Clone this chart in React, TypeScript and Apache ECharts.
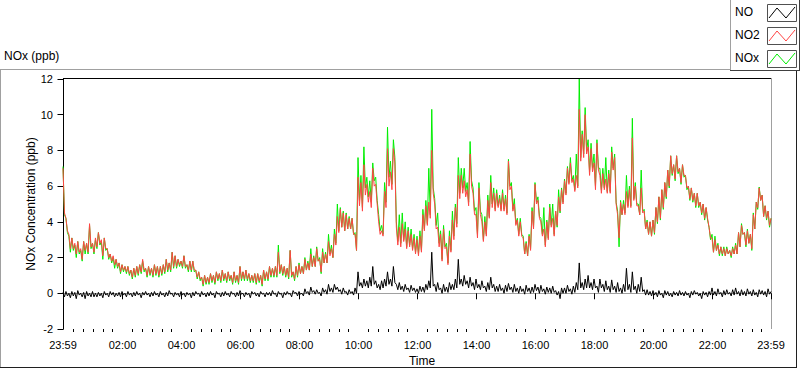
import React, { useEffect, useRef } from 'react';
import * as echarts from 'echarts';

// Each 6-minute slot holds the top and the bottom of the noisy trace.
// Slot i starts at minute -1 + 6i (minute -1 = 23:59 of the previous day).
const START_MIN = -1;
const STEP_MIN = 6;

// NO2 (ppb), red
const no2Hi = [
  7.0, 4.2, 3.3, 3.1, 2.8, 2.9, 2.5, 2.9, 2.8, 3.9,
  2.8, 3.1, 3.4, 3.0, 3.1, 2.5, 2.2, 2.1, 1.9, 1.7,
  1.6, 1.5, 1.5, 1.3, 1.4, 1.5, 1.6, 1.9, 1.4, 1.5,
  1.4, 1.6, 1.5, 1.5, 1.6, 1.9, 1.7, 2.3, 2.1, 1.9,
  1.8, 2.1, 1.6, 1.8, 1.8, 1.3, 1.2, 0.9, 1.0, 0.9,
  1.1, 1.0, 1.2, 1.1, 1.3, 1.1, 1.2, 1.0, 1.2, 1.0,
  1.5, 1.2, 1.3, 1.1, 1.0, 1.1, 1.1, 1.0, 1.3, 1.2,
  1.5, 1.4, 1.5, 2.3, 1.6, 1.5, 1.4, 2.4, 1.2, 1.5,
  1.6, 1.5, 1.9, 1.7, 2.2, 2.0, 2.5, 1.9, 2.3, 2.2,
  2.9, 2.5, 3.3, 4.3, 4.7, 4.5, 4.4, 4.2, 4.2, 3.3,
  6.5, 6.2, 7.2, 6.1, 5.7, 7.0, 6.1, 4.0, 3.5, 5.7,
  8.1, 6.8, 8.1, 3.7, 3.7, 3.9, 3.6, 3.5, 3.3, 3.1,
  3.0, 3.2, 4.4, 4.9, 5.1, 8.0, 5.0, 3.7, 3.3, 3.6,
  2.6, 3.2, 4.1, 4.8, 6.6, 6.6, 6.3, 5.8, 7.8, 5.6,
  4.4, 5.9, 4.0, 4.0, 5.2, 6.2, 5.6, 5.6, 5.3, 5.6,
  5.3, 7.4, 6.0, 5.0, 4.1, 4.0, 3.1, 2.8, 3.2, 4.6,
  6.1, 5.2, 4.0, 3.6, 4.0, 4.8, 4.2, 4.6, 5.4, 5.8,
  6.3, 7.0, 7.3, 6.4, 6.6, 10.3, 8.9, 10.0, 8.2, 8.1,
  7.3, 8.4, 6.6, 6.7, 6.4, 6.7, 7.9, 7.6, 4.4, 5.1,
  5.0, 5.7, 5.8, 8.7, 6.0, 4.9, 5.9, 4.6, 4.0, 4.0,
  4.1, 4.8, 5.4, 5.8, 6.2, 6.9, 7.7, 7.2, 7.7, 7.0,
  7.2, 6.6, 6.0, 5.9, 5.6, 5.6, 5.1, 5.0, 4.8, 3.7,
  3.1, 3.0, 2.7, 2.6, 2.5, 2.5, 2.4, 2.5, 2.7, 3.4,
  3.8, 3.4, 3.5, 3.3, 4.4, 5.1, 5.9, 5.5, 4.9, 4.6, 4.2,
];
const no2Lo = [
  4.5, 3.5, 2.5, 2.5, 2.2, 2.3, 1.9, 2.4, 2.3, 2.6,
  2.3, 2.6, 2.8, 2.1, 2.5, 2.0, 1.8, 1.6, 1.5, 1.2,
  1.3, 1.2, 1.1, 0.9, 1.0, 1.1, 1.2, 1.3, 1.0, 1.1,
  1.0, 1.1, 1.0, 1.1, 1.2, 1.3, 1.3, 1.5, 1.5, 1.6,
  1.5, 1.5, 1.3, 1.3, 1.3, 0.9, 0.8, 0.5, 0.6, 0.6,
  0.7, 0.6, 0.8, 0.7, 0.8, 0.7, 0.8, 0.6, 0.7, 0.6,
  0.8, 0.8, 0.8, 0.7, 0.7, 0.6, 0.7, 0.5, 0.8, 0.8,
  1.0, 1.0, 1.0, 1.2, 1.1, 1.0, 0.9, 1.0, 0.8, 1.0,
  1.1, 1.1, 1.3, 1.3, 1.5, 1.5, 1.8, 1.2, 1.7, 1.7,
  2.1, 2.0, 2.7, 3.4, 3.7, 3.5, 3.6, 3.6, 3.3, 2.4,
  4.9, 4.6, 5.5, 5.1, 4.8, 6.0, 5.0, 3.3, 3.2, 4.8,
  6.0, 5.8, 7.3, 2.7, 2.6, 2.9, 2.5, 2.6, 2.4, 2.2,
  2.1, 2.3, 3.5, 3.8, 4.2, 5.6, 3.6, 2.6, 1.8, 2.5,
  1.6, 2.3, 3.0, 3.7, 5.3, 5.6, 5.4, 4.9, 6.0, 4.4,
  3.1, 4.4, 2.9, 3.2, 4.2, 4.8, 4.6, 4.8, 4.6, 4.6,
  4.4, 5.8, 4.6, 3.8, 3.2, 3.2, 2.2, 2.1, 2.4, 3.6,
  5.0, 4.2, 3.2, 2.6, 3.0, 3.7, 3.2, 3.8, 4.6, 5.0,
  5.5, 6.1, 6.2, 5.7, 5.9, 7.4, 7.6, 7.8, 6.6, 6.8,
  5.8, 6.9, 5.6, 5.8, 5.6, 5.6, 6.9, 5.0, 3.1, 4.4,
  4.4, 4.8, 4.8, 5.2, 4.9, 4.4, 4.5, 3.6, 3.3, 3.2,
  3.4, 4.0, 4.2, 4.8, 5.4, 6.0, 6.7, 6.4, 6.8, 6.2,
  6.6, 5.9, 5.3, 5.2, 4.9, 4.9, 4.5, 4.2, 4.2, 3.1,
  2.3, 2.4, 2.2, 2.2, 2.1, 2.2, 2.1, 2.2, 2.2, 2.6,
  3.3, 2.7, 2.8, 2.5, 3.6, 4.8, 5.2, 4.3, 4.2, 3.8, 3.9,
];

// NOx (ppb), green
const noxHi = [
  7.1, 4.2, 3.2, 3.1, 2.7, 2.9, 2.4, 2.9, 2.8, 3.8,
  2.8, 3.0, 3.4, 2.9, 3.1, 2.5, 2.2, 2.0, 1.9, 1.7,
  1.6, 1.5, 1.5, 1.3, 1.4, 1.5, 1.6, 1.8, 1.4, 1.5,
  1.4, 1.6, 1.5, 1.5, 1.6, 1.9, 1.7, 2.3, 2.1, 1.9,
  1.8, 2.1, 1.6, 1.8, 1.8, 1.3, 1.2, 0.9, 1.0, 0.9,
  1.1, 1.0, 1.2, 1.1, 1.3, 1.1, 1.2, 1.0, 1.2, 1.0,
  1.5, 1.2, 1.3, 1.1, 1.0, 1.1, 1.1, 1.0, 1.3, 1.2,
  1.5, 1.4, 1.5, 2.7, 1.6, 1.5, 1.4, 2.4, 1.2, 1.5,
  1.7, 1.5, 2.0, 1.8, 2.5, 2.1, 2.6, 2.0, 2.5, 2.3,
  3.3, 2.7, 3.6, 5.0, 4.8, 4.6, 4.5, 4.3, 4.2, 3.4,
  7.6, 6.6, 8.2, 6.5, 6.3, 7.3, 6.5, 4.4, 3.8, 6.2,
  9.3, 7.4, 8.6, 4.0, 4.4, 4.5, 4.0, 3.7, 3.6, 3.3,
  3.2, 3.5, 4.7, 5.2, 7.0, 10.3, 5.3, 4.5, 3.5, 3.8,
  2.8, 3.5, 4.6, 5.0, 7.6, 7.0, 7.0, 6.2, 8.5, 5.9,
  4.8, 6.2, 4.4, 4.3, 5.5, 6.6, 5.9, 5.8, 5.5, 5.8,
  5.5, 7.5, 6.2, 5.3, 4.2, 4.2, 3.2, 2.9, 3.3, 4.8,
  6.2, 5.4, 4.2, 4.8, 4.1, 5.0, 5.0, 4.6, 5.8, 5.9,
  6.4, 7.1, 7.6, 6.6, 7.8, 12.0, 9.1, 10.4, 8.6, 8.4,
  7.8, 8.6, 7.0, 7.0, 7.6, 6.9, 8.2, 7.8, 4.6, 5.2,
  5.2, 6.6, 6.0, 9.8, 6.2, 5.0, 6.9, 4.7, 4.1, 4.0,
  4.1, 4.8, 5.4, 5.8, 6.2, 6.9, 7.7, 7.2, 7.7, 7.0,
  7.2, 6.6, 6.0, 5.9, 5.6, 5.6, 5.1, 5.0, 4.8, 3.7,
  3.3, 3.2, 2.8, 2.6, 2.6, 2.6, 2.4, 2.6, 2.8, 3.4,
  3.9, 3.4, 3.6, 3.3, 4.5, 5.1, 5.95, 5.5, 4.9, 4.6, 4.2,
];
const noxLo = [
  4.4, 3.4, 2.3, 2.4, 2.0, 2.2, 1.8, 2.2, 2.2, 2.5,
  2.2, 2.5, 2.7, 1.9, 2.4, 1.9, 1.7, 1.4, 1.4, 1.1,
  1.2, 1.1, 1.0, 0.8, 0.9, 1.0, 1.1, 1.2, 0.9, 1.0,
  0.9, 1.0, 0.9, 1.0, 1.1, 1.2, 1.2, 1.4, 1.4, 1.5,
  1.4, 1.4, 1.2, 1.2, 1.2, 0.8, 0.7, 0.4, 0.5, 0.5,
  0.6, 0.5, 0.7, 0.6, 0.7, 0.6, 0.7, 0.5, 0.6, 0.5,
  0.7, 0.7, 0.7, 0.6, 0.6, 0.5, 0.6, 0.4, 0.7, 0.7,
  0.9, 0.9, 0.9, 1.1, 1.0, 0.9, 0.8, 0.9, 0.7, 0.9,
  1.1, 1.1, 1.3, 1.3, 1.5, 1.5, 1.8, 1.1, 1.7, 1.7,
  2.2, 2.0, 2.8, 3.5, 3.7, 3.5, 3.6, 3.6, 3.3, 2.4,
  5.2, 4.8, 5.9, 5.4, 5.1, 6.3, 5.2, 3.5, 3.3, 5.1,
  6.5, 6.1, 7.6, 2.9, 2.8, 3.0, 2.6, 2.7, 2.5, 2.3,
  2.2, 2.4, 3.6, 3.9, 4.4, 5.9, 3.8, 2.8, 1.9, 2.6,
  1.7, 2.4, 3.2, 3.9, 5.6, 5.9, 5.7, 5.1, 6.3, 4.6,
  3.3, 4.6, 3.0, 3.3, 4.3, 5.0, 4.7, 4.9, 4.7, 4.7,
  4.5, 6.0, 4.7, 3.9, 3.3, 3.3, 2.2, 2.1, 2.5, 3.7,
  5.1, 4.3, 3.3, 2.7, 3.1, 3.8, 3.3, 3.7, 4.5, 5.1,
  5.6, 6.2, 6.3, 5.8, 6.0, 7.6, 7.8, 8.0, 6.8, 7.0,
  6.0, 7.0, 5.8, 5.9, 5.7, 5.7, 7.0, 5.1, 2.6, 4.4,
  4.5, 4.9, 4.9, 5.3, 5.0, 4.4, 4.6, 3.6, 3.3, 3.2,
  3.3, 3.9, 4.1, 4.7, 5.3, 5.9, 6.6, 6.3, 6.7, 6.1,
  6.5, 5.8, 5.2, 5.1, 4.8, 4.8, 4.4, 4.1, 4.1, 3.0,
  2.3, 2.4, 2.1, 2.1, 2.1, 2.2, 2.0, 2.2, 2.2, 2.6,
  3.3, 2.6, 2.8, 2.4, 3.6, 4.7, 5.2, 4.3, 4.1, 3.7, 3.8,
];

// NO (ppb), black
const noHi = [
  0.05, 0.1, 0.0, 0.1, 0.05, 0.15, 0.0, 0.05, 0.1, 0.0,
  0.1, 0.0, 0.05, 0.0, 0.1, 0.0, 0.1, 0.05, 0.0, 0.05,
  0.1, 0.0, 0.1, 0.0, 0.05, 0.1, 0.0, 0.05, 0.1, 0.0,
  0.05, 0.1, 0.0, 0.1, 0.0, 0.05, 0.15, 0.0, 0.05, 0.0,
  0.1, 0.0, 0.05, 0.0, 0.05, 0.1, 0.0, 0.1, 0.0, 0.05,
  0.1, 0.0, 0.1, 0.0, 0.05, 0.1, 0.0, 0.1, 0.0, 0.05,
  0.15, 0.0, 0.05, 0.0, 0.1, 0.05, 0.0, 0.1, 0.0, 0.05,
  0.05, 0.15, 0.0, 0.1, 0.0, 0.05, 0.1, 0.0, 0.15, 0.05,
  0.1, 0.0, 0.25, 0.1, 0.35, 0.15, 0.2, 0.05, 0.3, 0.2,
  0.5, 0.3, 0.5, 0.35, 0.2, 0.3, 0.1, 0.2, 0.1, 0.3,
  1.2, 0.6, 0.8, 0.7, 0.9, 1.5, 0.7, 0.5, 0.7, 0.8,
  1.2, 0.8, 1.5, 0.5, 0.6, 0.4, 0.5, 0.3, 0.45, 0.3,
  0.25, 0.4, 0.35, 0.5, 0.7, 2.3, 0.5, 0.6, 0.3, 0.5,
  0.35, 0.6, 0.5, 0.8, 1.9, 0.8, 1.0, 0.7, 0.9, 0.6,
  0.8, 0.5, 0.7, 0.4, 0.6, 0.9, 0.5, 0.4, 0.5, 0.3,
  0.45, 0.55, 0.35, 0.5, 0.3, 0.4, 0.25, 0.45, 0.3, 0.35,
  0.5, 0.35, 0.45, 0.25, 0.35, 0.3, 0.4, 0.15, 0.1, 0.3,
  0.3, 0.45, 0.25, 0.4, 0.6, 1.7, 0.6, 0.8, 1.0, 0.6,
  0.8, 0.4, 0.8, 0.5, 0.7, 0.4, 0.75, 0.4, 0.6, 0.3,
  0.5, 1.4, 0.5, 1.2, 0.4, 0.5, 0.9, 0.2, 0.2, 0.1,
  0.15, 0.05, 0.15, 0.0, 0.15, 0.1, 0.0, 0.1, 0.05, 0.15,
  0.05, 0.1, 0.0, 0.1, 0.15, 0.05, 0.0, 0.1, 0.05, 0.1,
  0.3, 0.1, 0.25, 0.05, 0.15, 0.2, 0.05, 0.2, 0.3, 0.1,
  0.2, 0.1, 0.25, 0.1, 0.2, 0.05, 0.2, 0.15, 0.1, 0.25, 0.1,
];
const noLo = [
  -0.2, -0.15, -0.25, -0.15, -0.3, -0.1, -0.2, -0.3, -0.15, -0.2,
  -0.2, -0.2, -0.15, -0.25, -0.1, -0.2, -0.1, -0.2, -0.15, -0.2,
  -0.1, -0.2, -0.1, -0.2, -0.15, -0.1, -0.25, -0.1, -0.1, -0.2,
  -0.15, -0.1, -0.2, -0.1, -0.2, -0.15, -0.05, -0.2, -0.1, -0.2,
  -0.1, -0.2, -0.1, -0.25, -0.15, -0.05, -0.2, -0.1, -0.2, -0.15,
  -0.1, -0.25, -0.05, -0.2, -0.15, -0.1, -0.2, -0.05, -0.2, -0.15,
  -0.05, -0.2, -0.1, -0.25, -0.05, -0.15, -0.2, -0.05, -0.2, -0.1,
  -0.15, -0.05, -0.2, -0.05, -0.25, -0.1, -0.05, -0.2, 0.0, -0.15,
  -0.05, -0.15, 0.0, -0.1, 0.05, -0.05, 0.0, -0.15, 0.05, -0.05,
  0.1, 0.05, 0.2, 0.1, -0.05, 0.05, -0.1, 0.0, -0.1, 0.0,
  0.4, 0.3, 0.4, 0.3, 0.4, 0.5, 0.3, 0.2, 0.3, 0.4,
  0.5, 0.4, 0.6, 0.2, 0.2, 0.1, 0.2, 0.05, 0.15, 0.05,
  0.0, 0.1, 0.05, 0.2, 0.3, 0.4, 0.1, 0.2, 0.0, 0.1,
  0.05, 0.2, 0.2, 0.3, 0.5, 0.4, 0.5, 0.3, 0.4, 0.2,
  0.3, 0.2, 0.3, 0.1, 0.2, 0.3, 0.1, 0.1, 0.15, 0.0,
  0.1, 0.2, 0.05, 0.1, 0.0, 0.1, -0.05, 0.1, 0.0, 0.05,
  0.15, 0.0, 0.1, -0.05, 0.05, 0.0, 0.05, -0.1, -0.3, 0.0,
  0.0, 0.1, -0.05, 0.05, 0.2, 0.3, 0.2, 0.3, 0.3, 0.2,
  0.3, 0.05, 0.3, 0.1, 0.2, 0.05, 0.2, 0.05, 0.1, 0.0,
  0.1, 0.2, 0.05, 0.2, 0.0, 0.1, 0.1, -0.1, -0.1, -0.15,
  -0.1, -0.2, -0.1, -0.25, -0.1, -0.15, -0.2, -0.1, -0.15, -0.1,
  -0.15, -0.1, -0.25, -0.1, -0.05, -0.15, -0.3, -0.1, -0.2, -0.1,
  -0.1, -0.15, -0.05, -0.2, -0.1, -0.05, -0.15, -0.1, -0.05, -0.15,
  -0.1, -0.15, -0.05, -0.15, -0.1, -0.2, -0.05, -0.1, -0.2, -0.05, -0.1,
];

const xTickValues = [-1, 120, 240, 360, 480, 600, 720, 840, 960, 1080, 1200, 1320, 1439];
const xTickLabels = ['23:59', '02:00', '04:00', '06:00', '08:00', '10:00', '12:00', '14:00', '16:00', '18:00', '20:00', '22:00', '23:59'];
const legendNames = ['NO', 'NO2', 'NOx'];
const legendColors = ['#000000', '#ff4444', '#00ee00'];

const FONT = "'Liberation Sans', Arial, sans-serif";

// Interleave the top and bottom readings of each slot into one time series
function interleave(hi: number[], lo: number[]) {
  const out: number[][] = [];
  hi.forEach((h, i) => {
    const t = START_MIN + i * STEP_MIN;
    out.push([t, h]);
    if (t + STEP_MIN / 2 <= 1439) out.push([t + STEP_MIN / 2, lo[i]]);
  });
  return out;
}

export default function App() {
  const ref = useRef<HTMLDivElement>(null);

  useEffect(() => {
    const chart = echarts.init(ref.current!, null, { renderer: 'svg' });
    const minorTicks: number[] = [];
    for (let m = 20; m < 1440; m += 20) if (m % 120 !== 0) minorTicks.push(m);

    const legendGraphics: any[] = [];
    legendNames.forEach((name, k) => {
      const y0 = 4 + k * 23;
      legendGraphics.push({
        type: 'text', left: 735, top: y0 + 2,
        style: { text: name, fill: '#000', font: `12px ${FONT}` },
      });
      legendGraphics.push({
        type: 'rect', shape: { x: 767.5, y: y0 + 0.5, width: 29, height: 17 },
        style: { fill: '#ffffff', stroke: '#505050', lineWidth: 1 },
      });
      legendGraphics.push({
        type: 'polyline',
        shape: { points: [[769, y0 + 14], [777, y0 + 4], [786, y0 + 14], [795, y0 + 3]] },
        style: { stroke: legendColors[k], lineWidth: 1, fill: 'none' },
      });
    });

    const lineSeries = (name: string, data: number[][], color: string, z: number) => ({
      name, type: 'line', data, showSymbol: false, symbol: 'none', z,
      lineStyle: { color, width: 1 }, itemStyle: { color },
      emphasis: { disabled: true },
    });

    const option: any = {
      animation: false,
      backgroundColor: '#ffffff',
      grid: { left: 63, right: 29, top: 79, bottom: 40, containLabel: false, outerBoundsMode: 'none' },
      xAxis: [
        {
          type: 'value', min: -1, max: 1439, position: 'bottom',
          name: 'Time', nameLocation: 'middle', nameGap: 25,
          nameTextStyle: { color: '#000', fontSize: 12, fontFamily: FONT, padding: [0, 0, 0, 10] },
          axisLine: { show: true, lineStyle: { color: '#a0a0a0', width: 1 } },
          axisTick: { show: true, customValues: xTickValues, length: 6, lineStyle: { color: '#000' } },
          axisLabel: {
            show: true, customValues: xTickValues, margin: 10, color: '#000', fontSize: 11, fontFamily: FONT,
            formatter: (v: number) => {
              const idx = xTickValues.indexOf(Math.round(v));
              return idx >= 0 ? xTickLabels[idx] : '';
            },
          },
          splitLine: { show: false },
        },
        {
          type: 'value', min: -1, max: 1439, position: 'bottom', offset: 0,
          axisLine: { show: false },
          axisTick: { show: true, customValues: minorTicks, length: 3, lineStyle: { color: '#000' } },
          axisLabel: { show: false },
          splitLine: { show: false },
        },
      ],
      yAxis: {
        type: 'value', min: -2, max: 12, interval: 2,
        axisLine: { show: true, lineStyle: { color: '#000', width: 1 } },
        axisTick: { show: true, length: 6, lineStyle: { color: '#000' } },
        axisLabel: { margin: 10, color: '#000', fontSize: 11, fontFamily: FONT },
        splitLine: { show: false },
      },
      series: [
        lineSeries('NOx', interleave(noxHi, noxLo), legendColors[2], 2),
        lineSeries('NO2', interleave(no2Hi, no2Lo), legendColors[1], 3),
        lineSeries('NO', interleave(noHi, noLo), legendColors[0], 4),
      ],
      graphic: [
        { type: 'text', left: 4, top: 50, style: { text: 'NOx (ppb)', fill: '#000', font: `12px ${FONT}` } },
        {
          type: 'text', x: 31, y: 204, rotation: Math.PI / 2,
          style: { text: 'NOx Concentration (ppb)', fill: '#000', font: `12px ${FONT}`, align: 'center', verticalAlign: 'middle' },
        },
        // panel border
        { type: 'line', shape: { x1: 0, y1: 69.5, x2: 731, y2: 69.5 }, style: { stroke: '#a0a0a0', lineWidth: 1 } },
        { type: 'line', shape: { x1: 0.5, y1: 69, x2: 0.5, y2: 368 }, style: { stroke: '#a0a0a0', lineWidth: 1 } },
        { type: 'line', shape: { x1: 0, y1: 367.5, x2: 797, y2: 367.5 }, style: { stroke: '#202020', lineWidth: 1 } },
        { type: 'line', shape: { x1: 796.5, y1: 70, x2: 796.5, y2: 368 }, style: { stroke: '#202020', lineWidth: 1 } },
        // legend box
        { type: 'line', shape: { x1: 730.5, y1: 0, x2: 730.5, y2: 71 }, style: { stroke: '#a0a0a0', lineWidth: 1 } },
        { type: 'line', shape: { x1: 730, y1: 70.5, x2: 800, y2: 70.5 }, style: { stroke: '#404040', lineWidth: 1 } },
        { type: 'line', shape: { x1: 799.5, y1: 0, x2: 799.5, y2: 71 }, style: { stroke: '#404040', lineWidth: 1 } },
        // plot frame (top dark, right light)
        { type: 'line', shape: { x1: 63, y1: 78.5, x2: 772, y2: 78.5 }, style: { stroke: '#000', lineWidth: 1 } },
        { type: 'line', shape: { x1: 771.5, y1: 78, x2: 771.5, y2: 329 }, style: { stroke: '#a0a0a0', lineWidth: 1 } },
        ...legendGraphics,
      ],
    };
    chart.setOption(option);
    return () => chart.dispose();
  }, []);

  return (
    <div
      ref={ref}
      style={{ position: 'absolute', left: 0, top: 0, width: 800, height: 369, background: '#fff' }}
    />
  );
}
